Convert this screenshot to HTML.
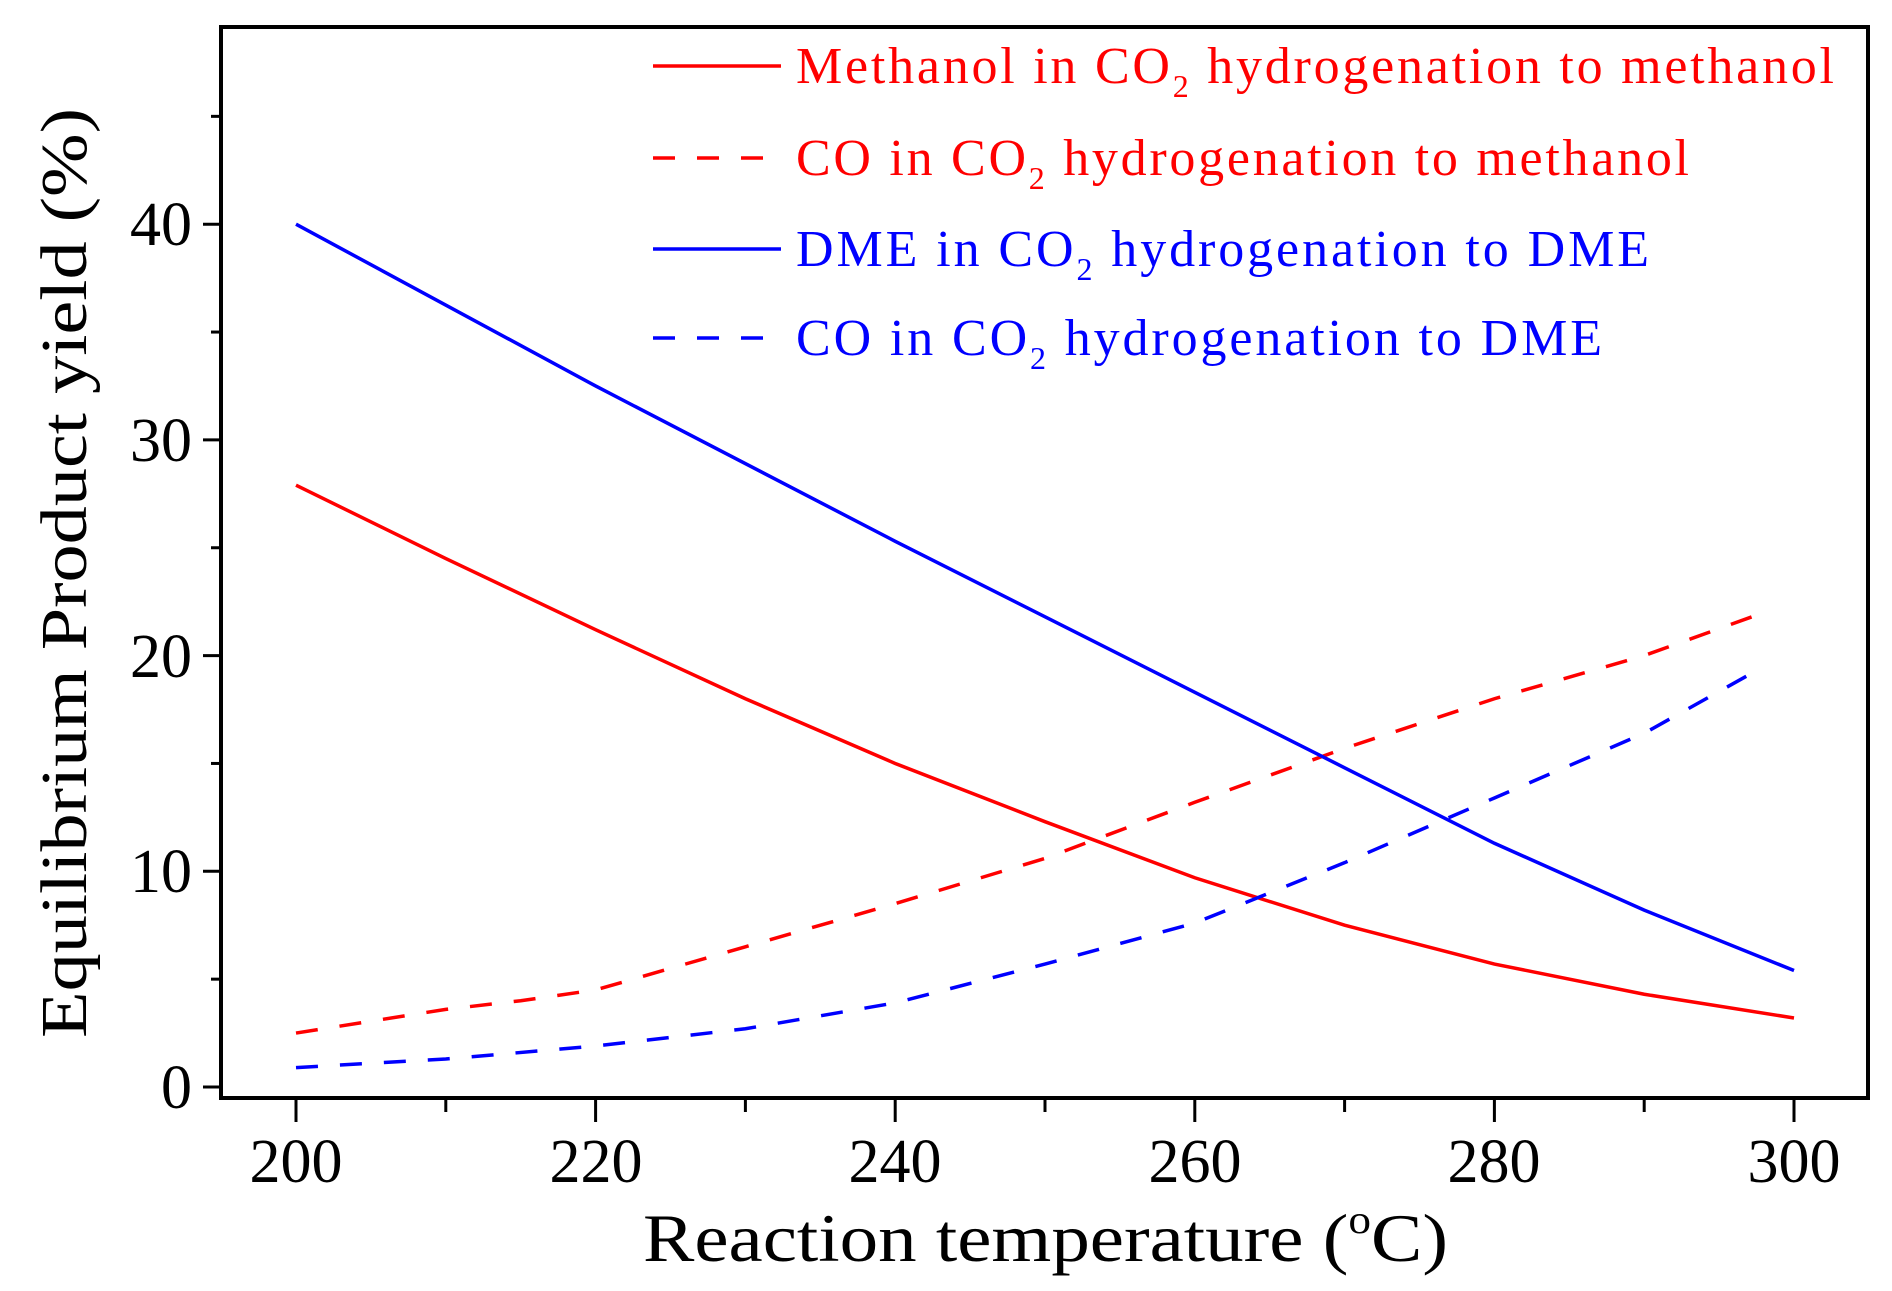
<!DOCTYPE html>
<html><head><meta charset="utf-8"><style>html,body{margin:0;padding:0;background:#fff}svg{display:block}</style></head>
<body>
<svg id="s" width="1892" height="1291" viewBox="0 0 1892 1291" xmlns="http://www.w3.org/2000/svg" font-family="Liberation Serif, serif">
<rect x="0" y="0" width="1892" height="1291" fill="#fff"/>
<g id="g"></g>
<rect x="221" y="27" width="1647" height="1071" fill="none" stroke="#000" stroke-width="4"/>
<g font-size="62" text-anchor="middle" fill="#000">
<text x="296" y="1182">200</text><text x="596" y="1182">220</text><text x="895" y="1182">240</text>
<text x="1195" y="1182">260</text><text x="1494" y="1182">280</text><text x="1794" y="1182">300</text>
</g>
<g font-size="62" text-anchor="end" fill="#000">
<text x="192" y="1108">0</text><text x="192" y="892">10</text><text x="192" y="677">20</text>
<text x="192" y="461">30</text><text x="192" y="245">40</text>
</g>
<text x="643" y="1261" font-size="68" textLength="805" lengthAdjust="spacingAndGlyphs">Reaction temperature (<tspan font-size="40" dy="-28">o</tspan><tspan dy="28">C)</tspan></text>
<text transform="translate(86,573) rotate(-90)" font-size="66" text-anchor="middle" textLength="930" lengthAdjust="spacingAndGlyphs">Equilibrium Product yield (%)</text>
<g font-size="52">
<line x1="653" y1="66" x2="781" y2="66" stroke="#f00" stroke-width="3.5"/>
<text x="796" y="83" fill="#f00" textLength="1038" lengthAdjust="spacing">Methanol in CO<tspan font-size="32" dy="14">2</tspan><tspan dy="-14"> hydrogenation to methanol</tspan></text>
<line x1="653" y1="158" x2="781" y2="158" stroke="#f00" stroke-width="3.5" stroke-dasharray="22,22"/>
<text x="796" y="175" fill="#f00" textLength="893" lengthAdjust="spacing">CO in CO<tspan font-size="32" dy="14">2</tspan><tspan dy="-14"> hydrogenation to methanol</tspan></text>
<line x1="653" y1="249" x2="781" y2="249" stroke="#00f" stroke-width="3.5"/>
<text x="796" y="266" fill="#00f" textLength="853" lengthAdjust="spacing">DME in CO<tspan font-size="32" dy="14">2</tspan><tspan dy="-14"> hydrogenation to DME</tspan></text>
<line x1="653" y1="338" x2="781" y2="338" stroke="#00f" stroke-width="3.5" stroke-dasharray="22,22"/>
<text x="796" y="355" fill="#00f" textLength="806" lengthAdjust="spacing">CO in CO<tspan font-size="32" dy="14">2</tspan><tspan dy="-14"> hydrogenation to DME</tspan></text>
</g>
</svg>
<script>
(function(){
var g=document.getElementById('g'),ns='http://www.w3.org/2000/svg';
function X(v){return 296+(v-200)*14.98}function Y(v){return 1087-v*21.57}
function el(t,a){var e=document.createElementNS(ns,t);for(var k in a)e.setAttribute(k,a[k]);g.appendChild(e);return e}
var v,maj;
for(v=200;v<=300;v+=10){maj=(v%20==0);el('line',{x1:X(v),y1:1098,x2:X(v),y2:1098+(maj?24:14),stroke:'#000','stroke-width':3});}
for(v=0;v<=45;v+=5){maj=(v%10==0);el('line',{x1:221,y1:Y(v),x2:221-(maj?18:10),y2:Y(v),stroke:'#000','stroke-width':3});}
var S=[
 {p:[[200,27.9],[210,24.5],[220,21.2],[230,18],[240,15],[250,12.3],[260,9.7],[270,7.5],[280,5.7],[290,4.3],[300,3.2]],c:'#f00',d:0},
 {p:[[200,2.5],[210,3.6],[215,4],[220,4.5],[230,6.5],[240,8.5],[250,10.6],[260,13.2],[270,15.7],[280,18],[290,20],[298,22]],c:'#f00',d:1},
 {p:[[200,40],[220,32.5],[240,25.3],[260,18.3],[270,14.8],[280,11.3],[290,8.2],[300,5.4]],c:'#00f',d:0},
 {p:[[200,0.9],[210,1.3],[220,1.9],[230,2.7],[240,3.9],[250,5.7],[260,7.6],[270,10.4],[280,13.4],[290,16.4],[298,19.5]],c:'#00f',d:1}
];
S.forEach(function(s){var d=s.p.map(function(q,i){return (i?'L':'M')+X(q[0])+','+Y(q[1])}).join(' ');
 var a={d:d,fill:'none',stroke:s.c,'stroke-width':3.5};if(s.d)a['stroke-dasharray']='22,22';el('path',a);});
})();
</script>
</body></html>
